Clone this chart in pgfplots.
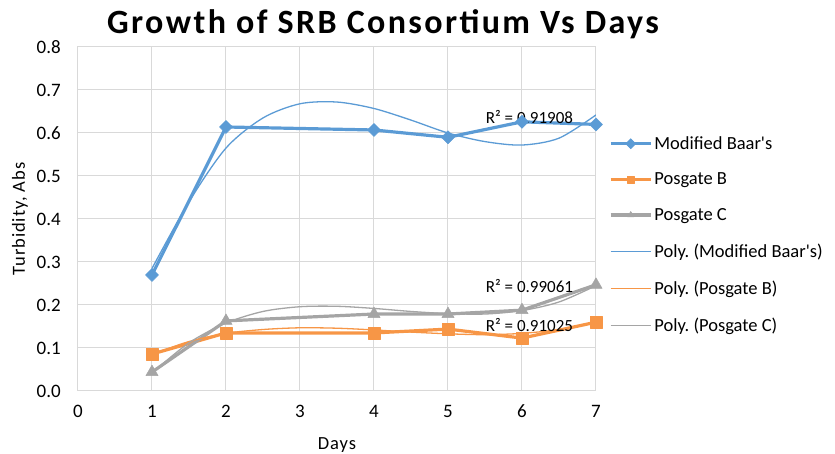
\documentclass[border=0pt]{standalone}
\usepackage{pgfplots}
\pgfplotsset{compat=1.18}
\usepackage{fontspec}
\setmainfont{Carlito}
\newfontfamily\titlefont[LetterSpace=7]{Carlito}
\newfontfamily\plainfont{Carlito}
\newfontfamily\labelfont[LetterSpace=5]{Carlito}
\definecolor{cblue}{HTML}{5B9BD5}
\definecolor{corange}{HTML}{F79646}
\definecolor{cgray}{HTML}{A5A5A5}
\definecolor{cgrid}{HTML}{D9D9D9}
\newcommand{\apos}{{\plainfont'}}
\frenchspacing
\begin{document}
\begin{tikzpicture}[x=1pt,y=1pt]
\useasboundingbox (-78,-63) rectangle (757,391);
\begin{axis}[
  at={(0,0)}, anchor=south west, scale only axis,
  width=518pt, height=344pt,
  xmin=0, xmax=7, ymin=0, ymax=0.8,
  xtick={0,1,2,3,4,5,6,7},
  ytick={0,0.1,0.2,0.3,0.4,0.5,0.6,0.7,0.8},
  /pgf/number format/assume math mode=true,
  yticklabel style={/pgf/number format/fixed, /pgf/number format/fixed zerofill, /pgf/number format/precision=1},
  grid=major, grid style={cgrid, line width=1pt},
  axis line style={cgrid, line width=1pt},
  major tick length=0pt,
  tick label style={font=\fontsize{19}{22}\selectfont},
  xticklabel style={anchor=center, inner sep=0pt, yshift=-20pt},
  yticklabel style={anchor=east, inner sep=0pt, xshift=-17pt},
  ylabel={Turbidity, Abs},
  ylabel style={at={(axis description cs:-0.112,0.5)}, anchor=center, font=\labelfont\fontsize{18.5}{22}\selectfont},
  xlabel={Days},
  xlabel style={at={(axis description cs:0.5,-0.157)}, anchor=center, font=\labelfont\fontsize{18.5}{22}\selectfont},
  title={Growth of SRB Consortium Vs Days},
  title style={at={(axis description cs:0.589,1.048)}, anchor=center, font=\titlefont\bfseries\fontsize{34}{40}\selectfont},
  legend style={at={(axis description cs:1.025,0.746)}, anchor=north west, draw=none, fill=none,
    font=\fontsize{18.5}{22}\selectfont, row sep=18pt, inner sep=0pt},
  legend cell align=left,
  legend image code/.code={\draw[mark repeat=2,mark phase=2,#1,mark size=3.6pt] plot coordinates {(0pt,0pt) (20pt,0pt) (40pt,0pt)};},
]
\addplot[cblue, line width=3.2pt, line join=round, mark=square*, mark size=4.6pt, mark options={rotate=45, line width=0.5pt}] coordinates {
 (1,0.270) (2,0.614) (4,0.607) (5,0.590) (6,0.626) (7,0.620)};
\addlegendentry{Modified Baar\apos s}
\addplot[corange, line width=3.2pt, line join=round, mark=square*, mark size=6pt, mark options={line width=0.5pt}] coordinates {
 (1,0.086) (2,0.135) (4,0.135) (5,0.144) (6,0.123) (7,0.160)};
\addlegendentry{Posgate B}
\addplot[cgray, line width=3.2pt, line join=round, mark=triangle*, mark size=7pt, mark options={line width=0.5pt}] coordinates {
 (1,0.044) (2,0.163) (4,0.179) (5,0.179) (6,0.188) (7,0.247)};
\addlegendentry{Posgate C}
\addplot[cblue, line width=1.3pt, smooth] coordinates {
 (1,0.285) (1.5,0.44) (2,0.565) (2.5,0.635) (3,0.668) (3.5,0.672) (4,0.657) (4.5,0.630) (5,0.600) (5.5,0.580) (6,0.572) (6.5,0.588) (7,0.642)};
\addlegendentry{Poly. (Modified Baar\apos s)}
\addplot[corange, line width=1.3pt, smooth] coordinates {
 (1,0.085) (1.5,0.115) (2,0.134) (2.5,0.143) (3,0.147) (3.5,0.146) (4,0.142) (4.5,0.137) (5,0.133) (5.5,0.131) (6,0.134) (6.5,0.143) (7,0.160)};
\addlegendentry{Poly. (Posgate B)}
\addplot[cgray, line width=1.3pt, smooth] coordinates {
 (1,0.042) (1.5,0.112) (2,0.158) (2.5,0.185) (3,0.196) (3.5,0.197) (4,0.192) (4.5,0.185) (5,0.180) (5.5,0.179) (6,0.187) (6.5,0.207) (7,0.245)};
\addlegendentry{Poly. (Posgate C)}
\node[anchor=west, inner sep=0pt, font=\fontsize{17}{20}\selectfont] at (axis cs:5.51,0.638) {R² = 0.91908};
\node[anchor=west, inner sep=0pt, font=\fontsize{17}{20}\selectfont] at (axis cs:5.51,0.244) {R² = 0.99061};
\node[anchor=west, inner sep=0pt, font=\fontsize{17}{20}\selectfont] at (axis cs:5.51,0.153) {R² = 0.91025};
\end{axis}
\end{tikzpicture}
\end{document}
